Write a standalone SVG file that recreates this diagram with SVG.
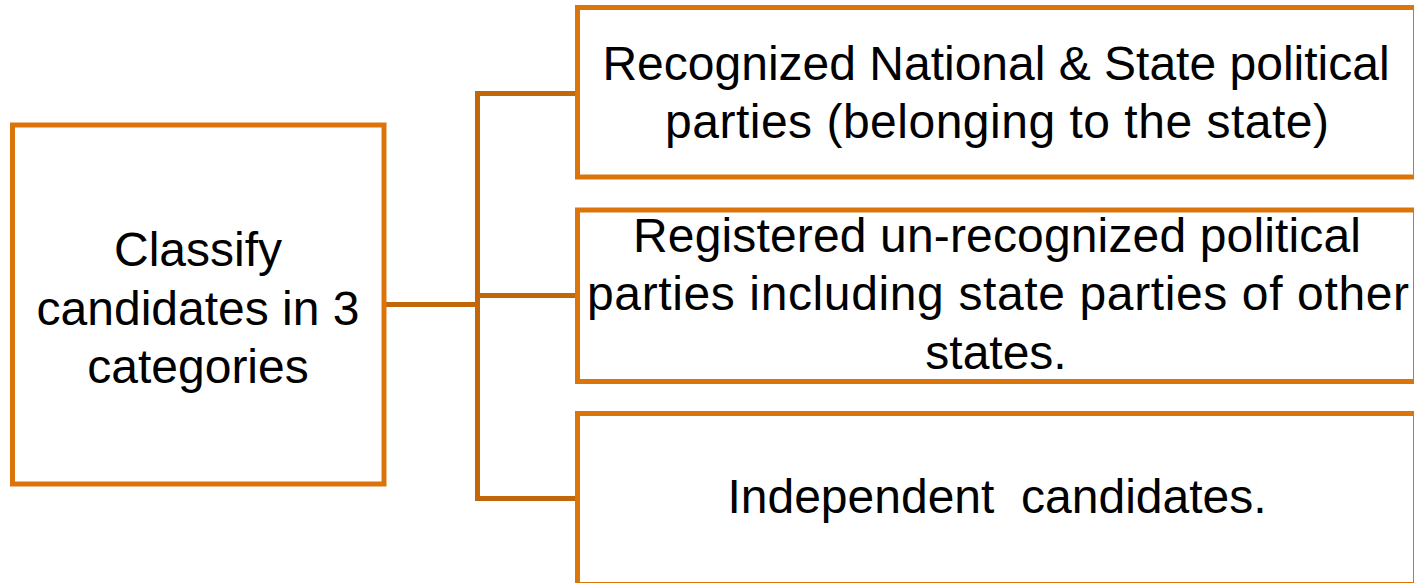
<svg xmlns="http://www.w3.org/2000/svg" width="1414" height="583" viewBox="0 0 1414 583">
<style>
.box{fill:#FFFFFF;stroke:#DB740B;stroke-width:5}
.conn{fill:none;stroke:#C2660A;stroke-width:5;stroke-linejoin:miter;stroke-linecap:square}
.t{font-family:"Liberation Sans",Arial,sans-serif;font-size:48px;fill:#000000;text-anchor:middle;white-space:pre}
</style>
<rect width="1414" height="583" fill="#FFFFFF"/>
<g id="connectors">
<path class="conn" d="M386 304.5 H477.5"/>
<path class="conn" d="M577 93.5 H477.5 V498.5 H577"/>
<path class="conn" d="M477.5 295.5 H577"/>
</g>
<g id="node-classify">
<rect class="box" x="12.5" y="125" width="371.5" height="359"/>
<text class="t" x="198" y="266">Classify</text>
<text class="t" x="198" y="325">candidates in 3</text>
<text class="t" x="198" y="383">categories</text>
</g>
<g id="node-recognized">
<rect class="box" x="577.5" y="7.5" width="838" height="169.5"/>
<text class="t" x="996" y="80">Recognized National &amp; State political</text>
<text class="t" x="997" y="138" textLength="664" lengthAdjust="spacing">parties (belonging to the state)</text>
</g>
<g id="node-registered">
<rect class="box" x="577.5" y="210" width="838" height="171.5"/>
<text class="t" x="997" y="252" textLength="728" lengthAdjust="spacing">Registered un-recognized political</text>
<text class="t" x="998" y="310" textLength="822" lengthAdjust="spacing">parties including state parties of other</text>
<text class="t" x="996" y="369">states.</text>
</g>
<g id="node-independent">
<rect class="box" x="577.5" y="413.5" width="838" height="171"/>
<text class="t" x="997" y="513">Independent  candidates.</text>
</g>
</svg>
